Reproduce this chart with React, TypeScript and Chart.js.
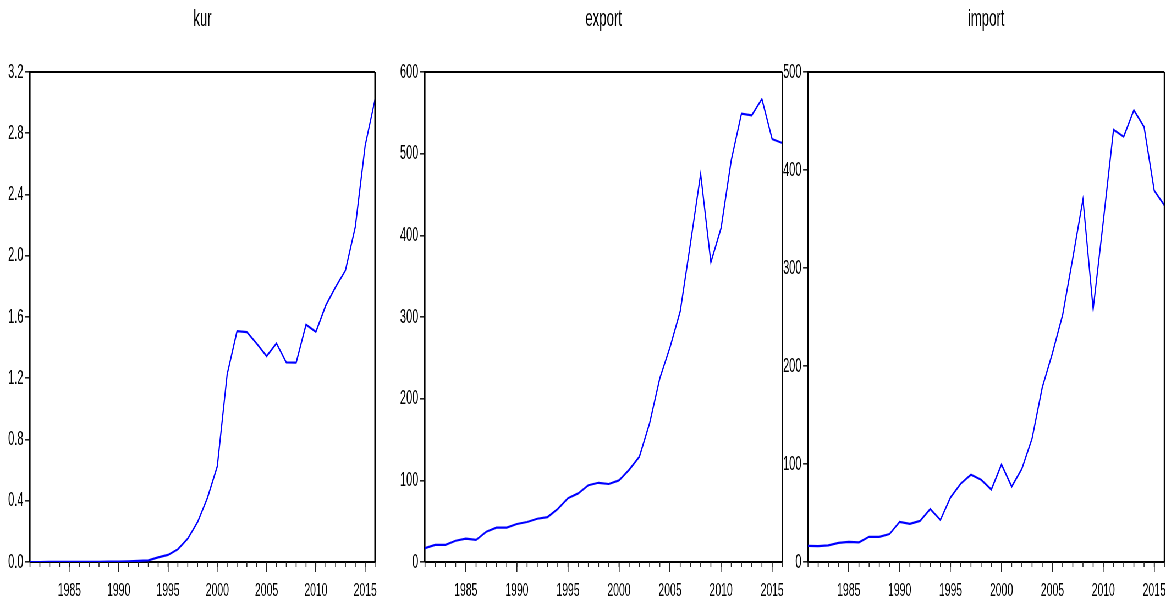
import React, { useEffect, useRef } from "react";
import { Chart, registerables } from "chart.js";

Chart.register(...registerables);

// ---- data ----
const years = [
  1981, 1982, 1983, 1984, 1985, 1986, 1987, 1988, 1989, 1990, 1991, 1992,
  1993, 1994, 1995, 1996, 1997, 1998, 1999, 2000, 2001, 2002, 2003, 2004,
  2005, 2006, 2007, 2008, 2009, 2010, 2011, 2012, 2013, 2014, 2015, 2016,
];

const kur = [
  0.0001, 0.0001, 0.0002, 0.0003, 0.0005, 0.0007, 0.0009, 0.0014, 0.0021,
  0.0026, 0.0042, 0.0069, 0.011, 0.03, 0.046, 0.083, 0.152, 0.261, 0.419,
  0.625, 1.226, 1.507, 1.501, 1.426, 1.344, 1.428, 1.303, 1.302, 1.55, 1.503,
  1.675, 1.796, 1.904, 2.189, 2.72, 3.02,
];

const exportValues = [
  17, 21, 21, 26, 28.5, 27, 37, 42, 42, 46.5, 49, 53, 55, 65, 78, 84, 94, 97,
  95.5, 100, 113, 129, 170, 225, 263, 307, 390, 475, 367, 409, 492, 549, 547,
  567, 518, 513,
];

const importValues = [
  16.5, 16.3, 17, 19.5, 20.5, 20, 25.7, 25.7, 28.5, 41, 39, 42, 54, 43, 66, 80,
  89, 84, 74, 99.5, 77, 95, 126, 178, 213, 252, 310, 370, 258, 348, 441, 434,
  461, 444, 379, 364,
];

const xTickYears = [1985, 1990, 1995, 2000, 2005, 2010, 2015];
const kurTicks = [0, 0.4, 0.8, 1.2, 1.6, 2.0, 2.4, 2.8, 3.2];
const exportTicks = [0, 100, 200, 300, 400, 500, 600];
const importTicks = [0, 100, 200, 300, 400, 500];

const titles = ["kur", "export", "import"];

// ---- layout ----
const SX = 0.55; // horizontal compression of the whole figure
const W = Math.round(1170 / SX);
const H = 606;
const FONT = "'Liberation Sans', Arial, sans-serif";

type Panel = {
  title: string;
  values: number[];
  ticks: number[];
  decimals: number;
  left: number;
  right: number;
};

const panels: Panel[] = [
  { title: titles[0], values: kur, ticks: kurTicks, decimals: 1, left: 30, right: 375 },
  { title: titles[1], values: exportValues, ticks: exportTicks, decimals: 0, left: 425, right: 782.3 },
  { title: titles[2], values: importValues, ticks: importTicks, decimals: 0, left: 808, right: 1164.5 },
];

const decor = {
  id: "panelDecor",
  afterDraw(chart: any, _args: any, opts: any) {
    const { ctx, chartArea } = chart;
    const xs = chart.scales.x;
    ctx.save();
    // frame: top and right
    ctx.strokeStyle = "#000";
    ctx.lineWidth = 2;
    ctx.beginPath();
    ctx.moveTo(chartArea.left, chartArea.top);
    ctx.lineTo(chartArea.right, chartArea.top);
    ctx.stroke();
    ctx.lineWidth = 2.6;
    ctx.beginPath();
    ctx.moveTo(chartArea.right, chartArea.top);
    ctx.lineTo(chartArea.right, chartArea.bottom);
    ctx.stroke();
    // minor yearly ticks
    ctx.strokeStyle = "#222";
    ctx.lineWidth = 1.6;
    for (const y of years) {
      const px = xs.getPixelForValue(y);
      ctx.beginPath();
      ctx.moveTo(px, chartArea.bottom);
      ctx.lineTo(px, chartArea.bottom + 5);
      ctx.stroke();
    }
    // title
    ctx.fillStyle = "#000";
    ctx.font = `24px ${FONT}`;
    ctx.textAlign = "center";
    ctx.textBaseline = "alphabetic";
    ctx.fillText(opts.title, (chartArea.left + chartArea.right) / 2, 26);
    ctx.restore();
  },
};

function makeChart(canvas: HTMLCanvasElement, p: Panel) {
  const L = p.left / SX;
  const R = p.right / SX;
  const YW = 50;
  const XH = 40;
  return new Chart(canvas, {
    type: "line",
    data: {
      datasets: [
        {
          data: years.map((y, i) => ({ x: y, y: p.values[i] })),
          borderColor: "#0000ff",
          borderWidth: 2.2,
          pointRadius: 0,
          tension: 0,
          fill: false,
        },
      ],
    },
    options: {
      animation: false,
      responsive: false,
      devicePixelRatio: 1,
      events: [],
      layout: { padding: { left: L - YW, right: W - R, top: 72, bottom: H - 562 - XH } },
      plugins: {
        legend: { display: false },
        tooltip: { enabled: false },
        title: { display: false },
        panelDecor: { title: p.title },
      } as any,
      scales: {
        x: {
          type: "linear",
          min: 1981,
          max: 2016,
          afterBuildTicks: (s: any) => {
            s.ticks = xTickYears.map((v) => ({ value: v }));
          },
          afterFit: (s: any) => {
            s.height = XH;
          },
          grid: { drawOnChartArea: false, tickLength: 10, color: "#222", lineWidth: 1.6 },
          border: { color: "#000", width: 2 },
          ticks: {
            padding: 7,
            maxRotation: 0,
            autoSkip: false,
            color: "#000",
            font: { family: FONT, size: 19 },
            callback: (v: any) => String(v),
          },
        },
        y: {
          type: "linear",
          min: p.ticks[0],
          max: p.ticks[p.ticks.length - 1],
          afterBuildTicks: (s: any) => {
            s.ticks = p.ticks.map((v) => ({ value: v }));
          },
          afterFit: (s: any) => {
            s.width = YW;
          },
          grid: { drawOnChartArea: false, tickLength: 9, color: "#222", lineWidth: 1.6 },
          border: { color: "#000", width: 2.6 },
          ticks: {
            padding: 3,
            color: "#000",
            font: { family: FONT, size: 20 },
            callback: (v: any) => Number(v).toFixed(p.decimals),
          },
        },
      },
    },
    plugins: [decor],
  } as any);
}

export default function App() {
  const refs = [
    useRef<HTMLCanvasElement>(null),
    useRef<HTMLCanvasElement>(null),
    useRef<HTMLCanvasElement>(null),
  ];
  useEffect(() => {
    const charts = panels.map((p, i) => makeChart(refs[i].current as HTMLCanvasElement, p));
    return () => charts.forEach((c) => c.destroy());
  }, []);
  return (
    <div
      style={{
        position: "fixed",
        left: 0,
        top: 0,
        width: 1170,
        height: H,
        overflow: "hidden",
        background: "#fff",
      }}
    >
      <div
        style={{
          position: "absolute",
          left: 0,
          top: 0,
          width: W,
          height: H,
          transform: `scaleX(${SX})`,
          transformOrigin: "0 0",
        }}
      >
        {panels.map((_, i) => (
          <canvas
            key={i}
            ref={refs[i]}
            width={W}
            height={H}
            style={{ position: "absolute", left: 0, top: 0 }}
          />
        ))}
      </div>
    </div>
  );
}
